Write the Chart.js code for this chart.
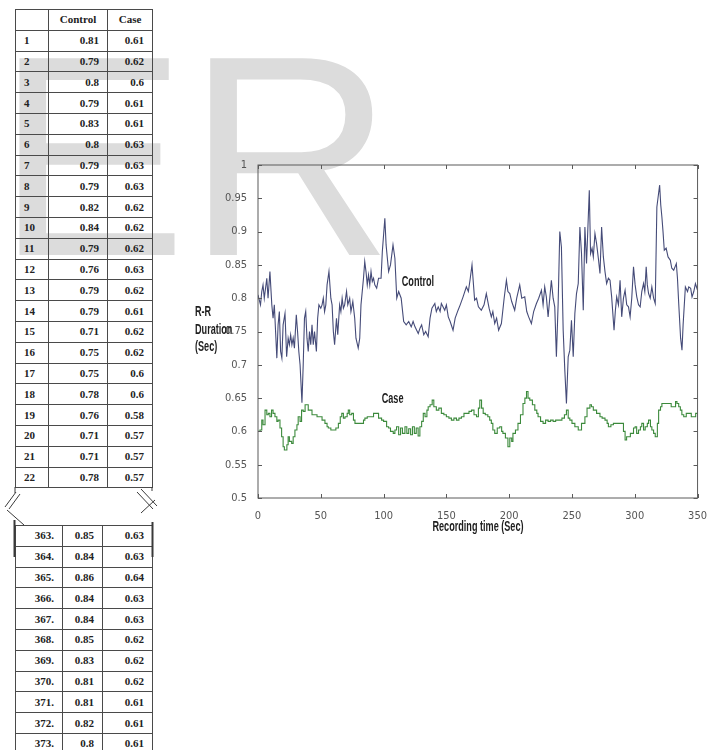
<!DOCTYPE html>
<html>
<head>
<meta charset="utf-8">
<script src="https://cdn.jsdelivr.net/npm/chart.js@4.4.1/dist/chart.umd.min.js"></script>
<style>
  body { margin: 0; background: #fff; width: 711px; height: 750px; overflow: hidden; position: relative; }
  .wm { position: absolute; left: -4px; top: 13px; font: 286px/1 "Liberation Sans", Arial, sans-serif; color: #dcdcdc; white-space: nowrap; z-index: 0; }
  table { position: absolute; border-collapse: collapse; table-layout: fixed; z-index: 1;
          font: bold 11px "Liberation Serif", "DejaVu Serif", "Times New Roman", serif; color: #222; }
  td { border: 1px solid #4a4a4a; padding: 0 8px; height: 19.8px; line-height: 1; white-space: nowrap; }
  .t1 td:nth-child(1) { text-align: left; }
  .t1 td:nth-child(2), .t1 td:nth-child(3) { text-align: right; }
  .t1 tr.hd td { text-align: center; padding: 0; }
  .t2 td { text-align: right; }
  .ttl { position: absolute; z-index: 2; font: bold 14px "Liberation Sans", Arial, sans-serif; color: #1e1e1e; white-space: nowrap; }
  #wrap { position: absolute; left: 200px; top: 155px; width: 511px; height: 380px; z-index: 1; }
  svg { position: absolute; left: 0; top: 0; z-index: 2; }
</style>
</head>
<body>
<div class="wm">ER</div>

<table class="t1" id="t1" style="left:15px; top:9px; width:137px;">
  <colgroup><col style="width:33px"><col style="width:59px"><col style="width:45px"></colgroup>
</table>
<table class="t2" id="t2" style="left:15px; top:525px; width:137px;">
  <colgroup><col style="width:47px"><col style="width:40px"><col style="width:50px"></colgroup>
</table>

<svg width="711" height="750">
  <g stroke="#3a3a3a" stroke-width="1" fill="none">
    <line x1="15" y1="487" x2="15" y2="493"/>
    <line x1="152" y1="487" x2="152" y2="491"/>
    <line x1="16" y1="492" x2="5" y2="507"/>
    <line x1="20" y1="494" x2="9" y2="509"/>
    <line x1="7" y1="510" x2="24" y2="525"/>
    <line x1="141" y1="489" x2="157" y2="506"/>
    <line x1="137" y1="492" x2="153" y2="509"/>
    <line x1="141" y1="513" x2="155" y2="500"/>
    <line x1="14.5" y1="520" x2="14.5" y2="557" stroke-width="2"/>
    <line x1="152.5" y1="522" x2="152.5" y2="557" stroke-width="2"/>
  </g>
</svg>

<div class="ttl" style="left:195px; top:303px; line-height:17.5px; transform:scaleX(0.65); transform-origin:0 0;">R-R<br>Duration<br>(Sec)</div>
<div class="ttl" style="left:378px; top:517px; width:200px; text-align:center; line-height:18px; transform:scaleX(0.65); transform-origin:50% 0;">Recording time (Sec)</div>

<div id="wrap"><canvas id="rrChart"></canvas></div>

<script>
// 表のデータ
const beatNoTop = ["1","2","3","4","5","6","7","8","9","10","11","12","13","14","15","16","17","18","19","20","21","22"];
const controlTop = ["0.81","0.79","0.8","0.79","0.83","0.8","0.79","0.79","0.82","0.84","0.79","0.76","0.79","0.79","0.71","0.75","0.75","0.78","0.76","0.71","0.71","0.78"];
const caseTop = ["0.61","0.62","0.6","0.61","0.61","0.63","0.63","0.63","0.62","0.62","0.62","0.63","0.62","0.61","0.62","0.62","0.6","0.6","0.58","0.57","0.57","0.57"];
const beatNoBottom = ["363.","364.","365.","366.","367.","368.","369.","370.","371.","372.","373."];
const controlBottom = ["0.85","0.84","0.86","0.84","0.84","0.85","0.83","0.81","0.81","0.82","0.8"];
const caseBottom = ["0.63","0.63","0.64","0.63","0.63","0.62","0.62","0.62","0.61","0.61","0.61"];

// グラフのデータ (秒, 秒)
const controlTime = [0,2,3,4,5,7,8,9.5,11,12,13,14,15,16,17,18,19,20,21.5,22.8,24,25,26,27,28,29,30.5,31.5,32.5,33.5,35,36,37,38,39,40,41,42,43,44,45,46.5,47.5,48.5,50,51,52,53,54,55,56.5,58,59,60,61,62.5,63.5,65,66,67,68,69,70.5,71.5,73,74,75.5,77,78,79.8,81,82,84,85,86,87,88,89,90,91,92,93,94.5,96,98,99,101,102,103,104,105.5,107.5,109,110.5,112,114,116,118,120,122,123.5,125,127.6,129,130.3,132,133.5,135.5,137,138.5,140.8,142,143.5,145,146,148.7,150,151.5,153,155.3,157,159.3,161,163.3,165.9,167.5,168.8,170.4,172.5,174,175.5,177.8,180,181.8,184,185.8,187,188.5,190,191.6,193.8,196,197.8,199,200.5,202,204.4,206,208.4,210,212.4,214,215.5,217.7,219.5,221.7,223.5,225.7,227,228.3,229.6,231,233.6,235,236.3,237.6,239,240.3,241.6,243,244.3,245.6,247,248.3,249.6,251,252.3,253.6,255,256.3,257.6,259,260.3,261.6,263.8,264.8,266,267,268.3,269.6,271,272.3,273.6,275,276.3,277.6,279,280.3,281.6,283.5,284.5,285.6,287,288.3,289.6,291,292.3,293.6,295,296.3,297.6,299,300.3,301.6,303,304.3,305.6,307,308,309.1,310,311,312.3,313.6,315,316.3,317.6,319.8,320.7,321.6,322.5,323.5,325,326.5,328.3,329.5,331,333.1,334,335,336.5,337.6,338.5,340.3,342,343,344.5,345.6,347,348.3,350];
const controlValue = [0.805,0.79,0.81,0.82,0.80,0.83,0.80,0.84,0.79,0.77,0.79,0.75,0.71,0.76,0.78,0.72,0.71,0.76,0.777,0.712,0.74,0.73,0.745,0.73,0.74,0.725,0.775,0.75,0.72,0.70,0.643,0.70,0.77,0.78,0.74,0.72,0.75,0.73,0.76,0.73,0.75,0.72,0.77,0.79,0.785,0.79,0.80,0.78,0.79,0.82,0.84,0.80,0.79,0.75,0.73,0.77,0.745,0.79,0.78,0.80,0.785,0.79,0.81,0.79,0.80,0.78,0.795,0.77,0.74,0.725,0.74,0.79,0.83,0.855,0.84,0.82,0.835,0.82,0.84,0.825,0.83,0.82,0.815,0.83,0.83,0.87,0.92,0.88,0.86,0.84,0.85,0.88,0.86,0.80,0.81,0.80,0.765,0.76,0.765,0.757,0.765,0.757,0.747,0.755,0.76,0.745,0.75,0.742,0.77,0.785,0.792,0.78,0.787,0.78,0.792,0.782,0.79,0.772,0.765,0.752,0.77,0.782,0.79,0.802,0.817,0.81,0.827,0.85,0.797,0.80,0.787,0.782,0.79,0.807,0.785,0.772,0.78,0.762,0.77,0.752,0.762,0.80,0.827,0.81,0.807,0.795,0.782,0.80,0.82,0.80,0.802,0.78,0.772,0.762,0.78,0.792,0.80,0.812,0.79,0.817,0.802,0.772,0.827,0.80,0.787,0.712,0.792,0.90,0.877,0.752,0.692,0.642,0.712,0.722,0.767,0.712,0.777,0.807,0.822,0.907,0.867,0.782,0.907,0.852,0.962,0.867,0.875,0.862,0.897,0.882,0.86,0.837,0.907,0.862,0.84,0.822,0.83,0.827,0.802,0.752,0.78,0.802,0.79,0.827,0.772,0.80,0.812,0.79,0.787,0.772,0.80,0.847,0.82,0.802,0.79,0.787,0.81,0.822,0.81,0.847,0.82,0.807,0.80,0.817,0.80,0.792,0.937,0.97,0.94,0.922,0.90,0.872,0.875,0.862,0.857,0.845,0.842,0.852,0.83,0.792,0.74,0.722,0.76,0.817,0.81,0.817,0.815,0.802,0.81,0.822,0.812];

const caseTime = [0,1.6,3,4,5.6,7,8.2,9.5,10.8,12,13.5,15,16,17.5,18.8,20,21,22.3,23,24,25,26.8,28,29.4,31,32,33.5,34.7,36,37.5,38.7,40,41.4,43,45.3,47,49.3,51,53.3,55,56,58,60,62,64,65.5,66.7,68,69.3,71,71.9,73,74.6,76,77.2,80,82.5,84,85.1,87,90.4,92,94.4,96,98.4,100,102.4,104,105.5,107.7,109,110.3,112,113.5,115,117,118.5,120,121.5,123,124.5,126,127.5,128.9,130.3,131.6,133,134.5,135.5,137,138.7,140,142,144,146,148,150,152,154,156,158,160,162,164,166,168,170,172,174,175.5,176.6,178,179.3,181,183,184.5,185.8,187,188.5,190.5,192.5,194,195,197,199,200.5,202,203,205,207,209,211,212.5,213.8,215,216.4,218.5,220.4,222,223,225,227,229,231,233,235,237,240,242,244,245.6,247,248.3,250,252.3,255,257.6,260.3,262,264.3,265.5,267,269.6,272.3,274,276.3,278,279,281,283,286,289.6,291,292.3,293.5,295,296.5,297.6,299,300.3,301.5,303,304.5,305.6,307,308.3,310,311,312.5,313.6,315,316.3,318,319,320.5,321.6,324,327,329,331,332.5,333.6,335,336.3,337.5,339,341,343,345,347,348.5,350];
const caseValue = [0.60,0.602,0.617,0.61,0.632,0.625,0.627,0.622,0.632,0.627,0.622,0.615,0.617,0.605,0.592,0.577,0.572,0.572,0.58,0.592,0.585,0.582,0.592,0.602,0.61,0.622,0.615,0.632,0.63,0.64,0.64,0.632,0.632,0.625,0.625,0.622,0.622,0.617,0.612,0.607,0.605,0.602,0.602,0.605,0.612,0.622,0.627,0.62,0.622,0.627,0.632,0.625,0.627,0.617,0.612,0.612,0.612,0.617,0.62,0.622,0.622,0.627,0.627,0.62,0.617,0.615,0.607,0.605,0.60,0.597,0.602,0.607,0.595,0.605,0.597,0.607,0.597,0.604,0.595,0.607,0.597,0.605,0.593,0.607,0.615,0.627,0.622,0.632,0.637,0.64,0.647,0.637,0.632,0.635,0.627,0.625,0.622,0.62,0.617,0.62,0.617,0.62,0.622,0.627,0.627,0.63,0.632,0.625,0.622,0.635,0.647,0.635,0.627,0.625,0.622,0.617,0.612,0.602,0.597,0.605,0.607,0.60,0.597,0.59,0.577,0.59,0.585,0.597,0.602,0.612,0.625,0.642,0.65,0.66,0.65,0.647,0.64,0.632,0.627,0.622,0.615,0.612,0.617,0.615,0.617,0.615,0.617,0.617,0.62,0.625,0.632,0.62,0.617,0.612,0.607,0.602,0.612,0.622,0.635,0.64,0.637,0.632,0.627,0.622,0.62,0.617,0.612,0.607,0.61,0.612,0.612,0.612,0.60,0.587,0.592,0.592,0.597,0.597,0.605,0.607,0.597,0.602,0.607,0.612,0.602,0.607,0.612,0.617,0.607,0.602,0.597,0.592,0.612,0.632,0.637,0.642,0.642,0.642,0.637,0.637,0.645,0.642,0.637,0.632,0.625,0.622,0.627,0.627,0.622,0.622,0.627,0.625];

const xTickStep = 50;
const yTickStep = 0.05;

// 表を作る
function fillTable(id, rows, header) {
  const t = document.getElementById(id);
  if (header) {
    const tr = t.insertRow();
    tr.className = "hd";
    header.forEach(h => { tr.insertCell().textContent = h; });
  }
  rows[0].forEach((_, i) => {
    const tr = t.insertRow();
    rows.forEach(col => { tr.insertCell().textContent = col[i]; });
  });
}
fillTable("t1", [beatNoTop, controlTop, caseTop], ["", "Control", "Case"]);
fillTable("t2", [beatNoBottom, controlBottom, caseBottom]);

// 枠線と内向きの目盛り、系列ラベル
const framePlugin = {
  id: "frame",
  afterDraw(chart) {
    const { ctx, chartArea: a, scales: { x, y } } = chart;
    ctx.save();
    ctx.strokeStyle = "#5a5a5a";
    ctx.lineWidth = 1;
    ctx.strokeRect(a.left, a.top, a.right - a.left, a.bottom - a.top);
    ctx.beginPath();
    x.ticks.forEach(t => {
      const px = Math.round(x.getPixelForValue(t.value)) + 0.5;
      ctx.moveTo(px, a.bottom); ctx.lineTo(px, a.bottom - 4);
      ctx.moveTo(px, a.top); ctx.lineTo(px, a.top + 4);
    });
    y.ticks.forEach(t => {
      const py = Math.round(y.getPixelForValue(t.value)) + 0.5;
      ctx.moveTo(a.left, py); ctx.lineTo(a.left + 4, py);
      ctx.moveTo(a.right, py); ctx.lineTo(a.right - 4, py);
    });
    ctx.stroke();

    ctx.fillStyle = "#1e1e1e";
    ctx.font = "bold 14px 'Liberation Sans', Arial, sans-serif";
    ctx.textBaseline = "middle";
    [["Control", 114.5, 0.824], ["Case", 98.5, 0.649]].forEach(([txt, tx, ty]) => {
      ctx.save();
      ctx.translate(x.getPixelForValue(tx), y.getPixelForValue(ty));
      ctx.scale(0.65, 1);
      ctx.fillText(txt, 0, 0);
      ctx.restore();
    });
    ctx.restore();
  }
};

const tickFont = { family: "'Liberation Sans Narrow', 'DejaVu Sans Condensed', 'Liberation Sans', sans-serif", size: 11 };

new Chart(document.getElementById("rrChart").getContext("2d"), {
  type: "line",
  data: {
    datasets: [
      {
        label: "Control",
        data: controlTime.map((t, i) => ({ x: t, y: controlValue[i] })),
        borderColor: "#454b78",
        borderWidth: 1.1,
        pointRadius: 0,
        tension: 0,
      },
      {
        label: "Case",
        data: caseTime.map((t, i) => ({ x: t, y: caseValue[i] })),
        borderColor: "#3c8a3c",
        borderWidth: 1.1,
        pointRadius: 0,
        stepped: true,
      },
    ],
  },
  options: {
    responsive: true,
    maintainAspectRatio: false,
    animation: false,
    layout: { padding: { top: 10, right: 13, left: 0, bottom: 0 } },
    plugins: { legend: { display: false }, tooltip: { enabled: false } },
    scales: {
      x: {
        type: "linear",
        min: 0,
        max: 350,
        grid: { display: false },
        border: { display: false },
        ticks: { stepSize: xTickStep, padding: 4, color: "#555", font: tickFont, maxRotation: 0, autoSkip: false },
        afterFit(s) { s.height = 37; },
      },
      y: {
        min: 0.5,
        max: 1,
        grid: { display: false },
        border: { display: false },
        ticks: {
          stepSize: yTickStep,
          padding: 3,
          color: "#555",
          font: tickFont,
          callback: v => String(Number(v.toFixed(2))),
        },
        afterFit(s) { s.width = 58; },
      },
    },
  },
  plugins: [framePlugin],
});
</script>
</body>
</html>
